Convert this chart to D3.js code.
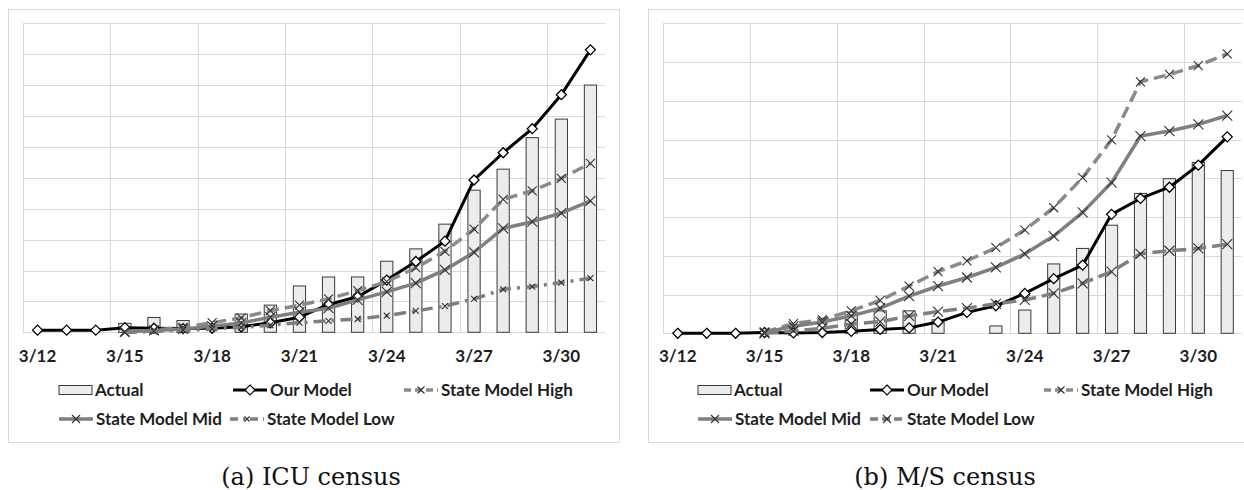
<!DOCTYPE html>
<html>
<head>
<meta charset="utf-8">
<script src="https://cdn.jsdelivr.net/npm/d3@7"></script>
<style>
  body { margin: 0; background: #fff; }
  svg { display: block; }
  .tick-label, .legend text { font-family: Lato, "Open Sans", sans-serif; font-weight: 700; font-size: 17px; fill: #1e1e1e; }
  .caption { font-family: "DejaVu Serif", "Liberation Serif", serif; font-size: 24px; fill: #111; }
</style>
</head>
<body>
<script>
// dates on the category axis
var dates = ["3/12","3/13","3/14","3/15","3/16","3/17","3/18","3/19","3/20","3/21",
             "3/22","3/23","3/24","3/25","3/26","3/27","3/28","3/29","3/30","3/31"];
var tickDates = ["3/12","3/15","3/18","3/21","3/24","3/27","3/30"];

// (a) ICU census (no y labels, so arbitrary units)
var icuActual = [null,null,null,2.9,4.8,3.8,null,5.9,8.8,15.0,17.9,17.9,23.0,27.0,35.0,46.0,52.8,63.0,69.0,80.0];
var icuOurs   = [0.7,0.7,0.7,1.5,1.3,1.2,1.3,1.8,3.1,4.9,9.0,11.5,16.9,22.9,29.5,49.3,58.1,65.9,76.9,91.4];
var icuHigh   = [null,null,null,0,0.7,1.6,3.1,4.7,7.0,8.8,10.8,13.5,16.4,20.9,26.2,33.4,43.0,45.8,49.8,54.7];
var icuMid    = [null,null,null,0.2,0.6,1.1,2.0,3.0,4.9,6.5,7.8,10.5,13.1,15.9,20.2,25.9,33.6,35.8,38.6,42.5];
var icuLow    = [null,null,null,0,0.3,0.7,1.1,1.6,2.3,3.1,3.7,4.3,5.4,6.9,8.5,10.8,13.9,14.8,16.1,17.5];

// (b) M/S census
var msActual = [null,null,null,null,null,null,5.5,5.8,5.8,3.5,null,1.9,6.0,17.9,21.9,27.9,36.1,39.9,44.1,42.0];
var msOurs   = [0,0,0,0.2,0.1,0.2,0.5,1.0,1.4,2.9,5.4,7.1,10.3,14.1,17.6,30.7,34.8,37.7,43.4,50.7];
var msHigh   = [null,null,null,0.3,2.5,3.5,5.8,8.5,12.2,15.9,18.7,22.1,26.7,32.4,40.2,49.9,64.9,66.8,69.1,72.1];
var msMid    = [null,null,null,0.2,1.8,2.9,4.5,6.5,9.6,12.2,14.4,17.0,20.5,25.1,31.2,38.9,50.9,52.2,53.9,56.2];
var msLow    = [null,null,null,0,0.6,1.3,2.4,3.0,4.5,5.6,6.5,7.6,8.6,10.3,12.9,15.9,20.5,21.3,21.9,23.0];

var width = 1244, height = 490;

var svg = d3.select("body").append("svg")
    .attr("width", width)
    .attr("height", height);

var diamondPath = "M0,-5L5,0L0,5L-5,0Z";
function crossPath(s) { return "M" + (-s) + "," + (-s) + "L" + s + "," + s + "M" + s + "," + (-s) + "L" + (-s) + "," + s; }

drawPanel({
  frame: [8.5, 9.5, 611, 433],
  x0: 23, x1: 605, yTop: 23.3, yBase: 332.3, yMax: 100,
  actual: icuActual, ours: icuOurs, high: icuHigh, mid: icuMid, low: icuLow,
  lowDash: "12,6,3,6", lowCross: 3,
  legendX: [59, 233, 404], legendX2: [59, 230],
  caption: "(a) ICU census", captionX: 311
});

drawPanel({
  frame: [648.5, 9.5, 620, 433],
  x0: 663.3, x1: 1241.7, yTop: 23.3, yBase: 333.3, yMax: 80,
  actual: msActual, ours: msOurs, high: msHigh, mid: msMid, low: msLow,
  lowDash: "14,6", lowCross: 5,
  legendX: [698, 870, 1044], legendX2: [698, 870],
  caption: "(b) M/S census", captionX: 945
});

function drawPanel(p) {
  var g = svg.append("g");

  g.append("rect")
    .attr("x", p.frame[0]).attr("y", p.frame[1])
    .attr("width", p.frame[2]).attr("height", p.frame[3])
    .attr("fill", "#fff").attr("stroke", "#d9d9d9");

  var x = d3.scaleBand().domain(dates).range([p.x0, p.x1]).padding(0);
  var y = d3.scaleLinear().domain([0, p.yMax]).range([p.yBase, p.yTop]);
  var bw = x.bandwidth();

  // horizontal gridlines
  g.append("g").selectAll("line")
    .data(d3.range(10, p.yMax + 1, 10))
    .enter().append("line")
    .attr("x1", p.x0).attr("x2", p.x1)
    .attr("y1", d => Math.round(y(d)) + 0.5).attr("y2", d => Math.round(y(d)) + 0.5)
    .attr("stroke", "#d9d9d9");

  // vertical gridlines every 3 days
  g.append("g").selectAll("line")
    .data(tickDates)
    .enter().append("line")
    .attr("x1", d => Math.round(x(d)) + 0.5).attr("x2", d => Math.round(x(d)) + 0.5)
    .attr("y1", p.yTop).attr("y2", p.yBase)
    .attr("stroke", "#d9d9d9");

  // baseline
  g.append("line")
    .attr("x1", p.x0).attr("x2", p.x1)
    .attr("y1", Math.round(y(0)) + 0.5).attr("y2", Math.round(y(0)) + 0.5)
    .attr("stroke", "#d9d9d9");

  // tick labels
  g.append("g").selectAll("text")
    .data(tickDates)
    .enter().append("text")
    .attr("class", "tick-label")
    .attr("x", d => x(d) + bw / 2)
    .attr("y", 362)
    .attr("text-anchor", "middle")
    .text(d => d);

  // bars
  var barW = bw * 0.42;
  g.append("g").selectAll("rect")
    .data(dates.map((d, i) => ({date: d, v: p.actual[i]})).filter(d => d.v != null))
    .enter().append("rect")
    .attr("x", d => x(d.date) + (bw - barW) / 2)
    .attr("y", d => y(d.v))
    .attr("width", barW)
    .attr("height", d => y(0) - y(d.v))
    .attr("fill", "#ececec")
    .attr("stroke", "#3a3a3a")
    .attr("stroke-width", 1);

  var cx = (d, i) => x(dates[i]) + bw / 2;

  function series(values, stroke, w, dash, marker) {
    var line = d3.line()
      .defined(d => d != null)
      .x(cx)
      .y(d => y(d));
    g.append("path")
      .datum(values)
      .attr("fill", "none")
      .attr("stroke", stroke)
      .attr("stroke-width", w)
      .attr("stroke-dasharray", dash)
      .attr("stroke-linejoin", "round")
      .attr("d", line);
    var pts = values.map((v, i) => ({v: v, i: i})).filter(d => d.v != null);
    g.append("g").selectAll("path")
      .data(pts)
      .enter().append("path")
      .attr("transform", d => "translate(" + cx(null, d.i) + "," + y(d.v) + ")")
      .attr("d", marker.d)
      .attr("fill", marker.fill)
      .attr("stroke", marker.stroke)
      .attr("stroke-width", marker.w);
  }

  series(p.ours, "#000", 3, null, {d: diamondPath, fill: "#fff", stroke: "#000", w: 1.3});
  series(p.high, "#8a8a8a", 3.5, "12,6", {d: crossPath(4.5), fill: "none", stroke: "#333", w: 1.1});
  series(p.mid, "#7f7f7f", 3.5, null, {d: crossPath(5), fill: "none", stroke: "#333", w: 1.1});
  series(p.low, "#7f7f7f", 3.5, p.lowDash, {d: crossPath(p.lowCross), fill: "none", stroke: "#333", w: 1.1});

  // legend
  var lg = g.append("g").attr("class", "legend");
  var r1 = 390, r2 = 419;

  lg.append("rect")
    .attr("x", p.legendX[0]).attr("y", r1 - 4.5).attr("width", 33).attr("height", 9)
    .attr("fill", "#ececec").attr("stroke", "#3a3a3a");
  lg.append("text").attr("x", p.legendX[0] + 36).attr("y", r1 + 6).text("Actual");

  legendLine(p.legendX[1], r1, "#000", 3, null, diamondPath, "#fff", "#000", "Our Model");
  legendLine(p.legendX[2], r1, "#8a8a8a", 3.5, "7,4", crossPath(3.5), "none", "#333", "State Model High");
  legendLine(p.legendX2[0], r2, "#7f7f7f", 3.5, null, crossPath(4), "none", "#333", "State Model Mid");
  legendLine(p.legendX2[1], r2, "#7f7f7f", 3.5, p.lowCross < 4 ? "8,5,2,5" : "8,4", crossPath(p.lowCross < 4 ? 2.5 : 4), "none", "#333", "State Model Low");

  function legendLine(lx, ly, stroke, w, dash, md, mfill, mstroke, label) {
    lg.append("line")
      .attr("x1", lx).attr("x2", lx + 34).attr("y1", ly).attr("y2", ly)
      .attr("stroke", stroke).attr("stroke-width", w).attr("stroke-dasharray", dash);
    lg.append("path")
      .attr("transform", "translate(" + (lx + 17) + "," + ly + ")")
      .attr("d", md).attr("fill", mfill).attr("stroke", mstroke).attr("stroke-width", 1.1);
    lg.append("text").attr("x", lx + 37).attr("y", ly + 6).text(label);
  }

  svg.append("text")
    .attr("class", "caption")
    .attr("x", p.captionX)
    .attr("y", 485)
    .attr("text-anchor", "middle")
    .text(p.caption);
}
</script>
</body>
</html>
